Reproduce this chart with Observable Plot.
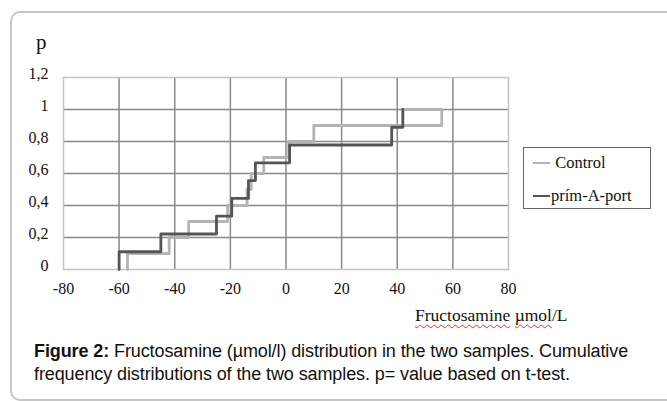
<!DOCTYPE html>
<html>
<head>
<meta charset="utf-8">
<script src="https://cdn.jsdelivr.net/npm/d3@7"></script>
<script src="https://cdn.jsdelivr.net/npm/@observablehq/plot@0.6"></script>
<style>
  html, body { margin: 0; padding: 0; width: 667px; height: 401px; overflow: hidden; background: #fff; }
  #card { position: absolute; left: 10px; top: 11px; width: 690px; height: 386px; border: 2px solid #c6c6c6; border-radius: 10px; }
  #chart { position: absolute; left: 0; top: 0; }
  .serif { font-family: "Liberation Serif", "Times New Roman", serif; color: #111; }
  #plabel { position: absolute; left: 36px; top: 30px; font-size: 21px; }
  #xtitle { position: absolute; left: 415px; top: 305px; font-size: 17.5px; white-space: nowrap; }
  #xtitle .sp { text-decoration: underline wavy #e03030; text-decoration-thickness: 1px; text-underline-offset: 3px; text-decoration-skip-ink: none; }
  #legend { position: absolute; left: 523px; top: 147px; width: 126px; height: 60px; border: 1.5px solid #666; }
  .item { position: absolute; left: 9px; height: 20px; display: flex; align-items: center; font-size: 16.5px; white-space: nowrap; }
  .swatch { display: inline-block; width: 17px; height: 2.5px; margin-right: 1px; }
  #caption { position: absolute; left: 34px; top: 340px; font-family: "Liberation Sans", Arial, sans-serif; font-size: 18px; line-height: 23px; color: #111; white-space: nowrap; letter-spacing: -0.1px; }
</style>
</head>
<body>
<div id="card"></div>
<div id="chart"></div>
<div id="plabel" class="serif">p</div>
<div id="xtitle" class="serif"><span class="sp">Fructosamine</span> <span class="sp">µmol</span>/L</div>
<div id="legend" class="serif"></div>
<div id="caption"><b>Figure 2:</b> Fructosamine (µmol/l) distribution in the two samples. Cumulative<br>frequency distributions of the two samples. p= value based on t-test.</div>
<script>
// Data
const seriesNames = ["Control", "prím-A-port"];
const controlX = [-57, -42, -35, -21, -14, -12.5, -8, 1, 10, 56];
const controlP = [0.1, 0.2, 0.3, 0.4, 0.5, 0.6, 0.7, 0.8, 0.9, 1.0];
const controlTailX = 42; // the light line returns along p = 1 to here
const primX = [-60, -45, -25, -19.5, -13.5, -11, 1.3, 38, 42];
const primP = [0.111, 0.222, 0.333, 0.444, 0.556, 0.667, 0.778, 0.889, 1.0];
const xTicks = [-80, -60, -40, -20, 0, 20, 40, 60, 80];
const yTicks = [0, 0.2, 0.4, 0.6, 0.8, 1, 1.2];
const colors = ["#b4b4b4", "#555555"];

function stepPoints(xs, ps) {
  const pts = [{x: xs[0], p: 0}];
  xs.forEach((x, i) => pts.push({x, p: ps[i]}));
  return pts;
}
const controlPts = stepPoints(controlX, controlP);
const controlTail = [{x: controlX[controlX.length - 1], p: controlP[controlP.length - 1]}, {x: controlTailX, p: controlP[controlP.length - 1]}];
const primPts = stepPoints(primX, primP);

const fmt = d => String(d).replace(".", ",");

const chart = Plot.plot({
  width: 667,
  height: 330,
  marginLeft: 63,
  marginRight: 159,
  marginTop: 77,
  marginBottom: 61,
  style: { fontFamily: "Liberation Serif, Times New Roman, serif", fontSize: "16px", color: "#111", background: "transparent" },
  x: { domain: [-80, 80], ticks: xTicks, tickFormat: fmt, label: null, tickSize: 0, tickPadding: 13 },
  y: { domain: [0, 1.2], ticks: yTicks, tickFormat: fmt, label: null, tickSize: 0, tickPadding: 15 },
  marks: [
    Plot.gridX(xTicks.slice(1, -1), { stroke: "#8a8a8a", strokeOpacity: 1, strokeWidth: 1.5 }),
    Plot.gridY(yTicks.slice(1, -1), { stroke: "#8a8a8a", strokeOpacity: 1, strokeWidth: 1.5 }),
    Plot.frame({ stroke: "#c4c4c4", strokeWidth: 1.5 }),
    Plot.axisX({ ticks: xTicks, tickFormat: fmt, tickSize: 0, tickPadding: 13, label: null }),
    Plot.axisY({ ticks: yTicks, tickFormat: fmt, tickSize: 0, tickPadding: 15, label: null, dy: -4 }),
    Plot.line(controlPts, { x: "x", y: "p", curve: "step-after", stroke: colors[0], strokeWidth: 2.8 }),
    Plot.line(controlTail, { x: "x", y: "p", stroke: colors[0], strokeWidth: 2.8 }),
    Plot.line(primPts, { x: "x", y: "p", curve: "step-after", stroke: colors[1], strokeWidth: 2.8 })
  ]
});
document.getElementById("chart").appendChild(chart);

const legend = document.getElementById("legend");
seriesNames.forEach((name, i) => {
  const it = document.createElement("div");
  it.className = "item";
  it.style.top = (i === 0 ? 5 : 38) + "px";
  it.innerHTML = `<span class="swatch" style="background:${colors[i]}"></span>${i === 0 ? "&nbsp;" : ""}${name}`;
  legend.appendChild(it);
});
</script>
</body>
</html>
